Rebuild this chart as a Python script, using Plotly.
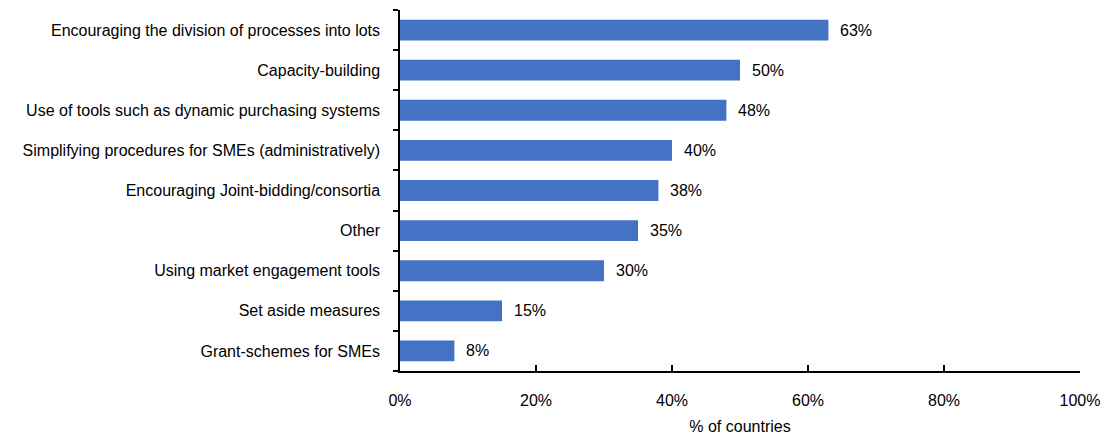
import plotly.graph_objects as go

categories = [
    "Encouraging the division of processes into lots",
    "Capacity-building",
    "Use of tools such as dynamic purchasing systems",
    "Simplifying procedures for SMEs (administratively)",
    "Encouraging Joint-bidding/consortia",
    "Other",
    "Using market engagement tools",
    "Set aside measures",
    "Grant-schemes for SMEs",
]
shares = [63, 50, 48, 40, 38, 35, 30, 15, 8]
x_ticks = [0, 20, 40, 60, 80, 100]
x_tick_labels = ["0%", "20%", "40%", "60%", "80%", "100%"]

bar_color = "#4472C4"
font_family = "Liberation Sans, Arial, sans-serif"

fig = go.Figure()
fig.add_trace(go.Bar(
    x=shares,
    y=categories,
    orientation="h",
    marker=dict(color=bar_color, line=dict(width=0)),
    width=0.52,
    hoverinfo="skip",
))

# value labels to the right of each bar
for cat, val in zip(categories, shares):
    fig.add_annotation(
        x=val, y=cat, text=f"{val}%", showarrow=False,
        xanchor="left", xshift=10, yshift=0,
        font=dict(family=font_family, size=16, color="#000000"),
    )

fig.update_layout(
    width=1118, height=439,
    margin=dict(l=400, r=38, t=10, b=68),
    paper_bgcolor="white", plot_bgcolor="white",
    showlegend=False,
    font=dict(family=font_family, size=16, color="#000000"),
    xaxis=dict(
        range=[0, 100],
        tickvals=x_ticks, ticktext=x_tick_labels,
        ticks="inside", ticklen=6, tickwidth=1.5, tickcolor="#000000",
        showline=True, linecolor="#000000", linewidth=1.5,
        showgrid=False, zeroline=False,
        ticklabelstandoff=14,
        tickfont=dict(size=16),
        title=dict(text="% of countries", font=dict(size=16), standoff=13),
        automargin=False,
    ),
    yaxis=dict(
        categoryorder="array", categoryarray=categories[::-1],
        ticks="outside", ticklen=5, tickwidth=1.5, tickcolor="#000000",
        tickson="boundaries",
        showline=True, linecolor="#000000", linewidth=1.5,
        showgrid=False, zeroline=False,
        ticklabelstandoff=15,
        tickfont=dict(size=16),
        automargin=False,
    ),
)

fig.write_html("out.html")
